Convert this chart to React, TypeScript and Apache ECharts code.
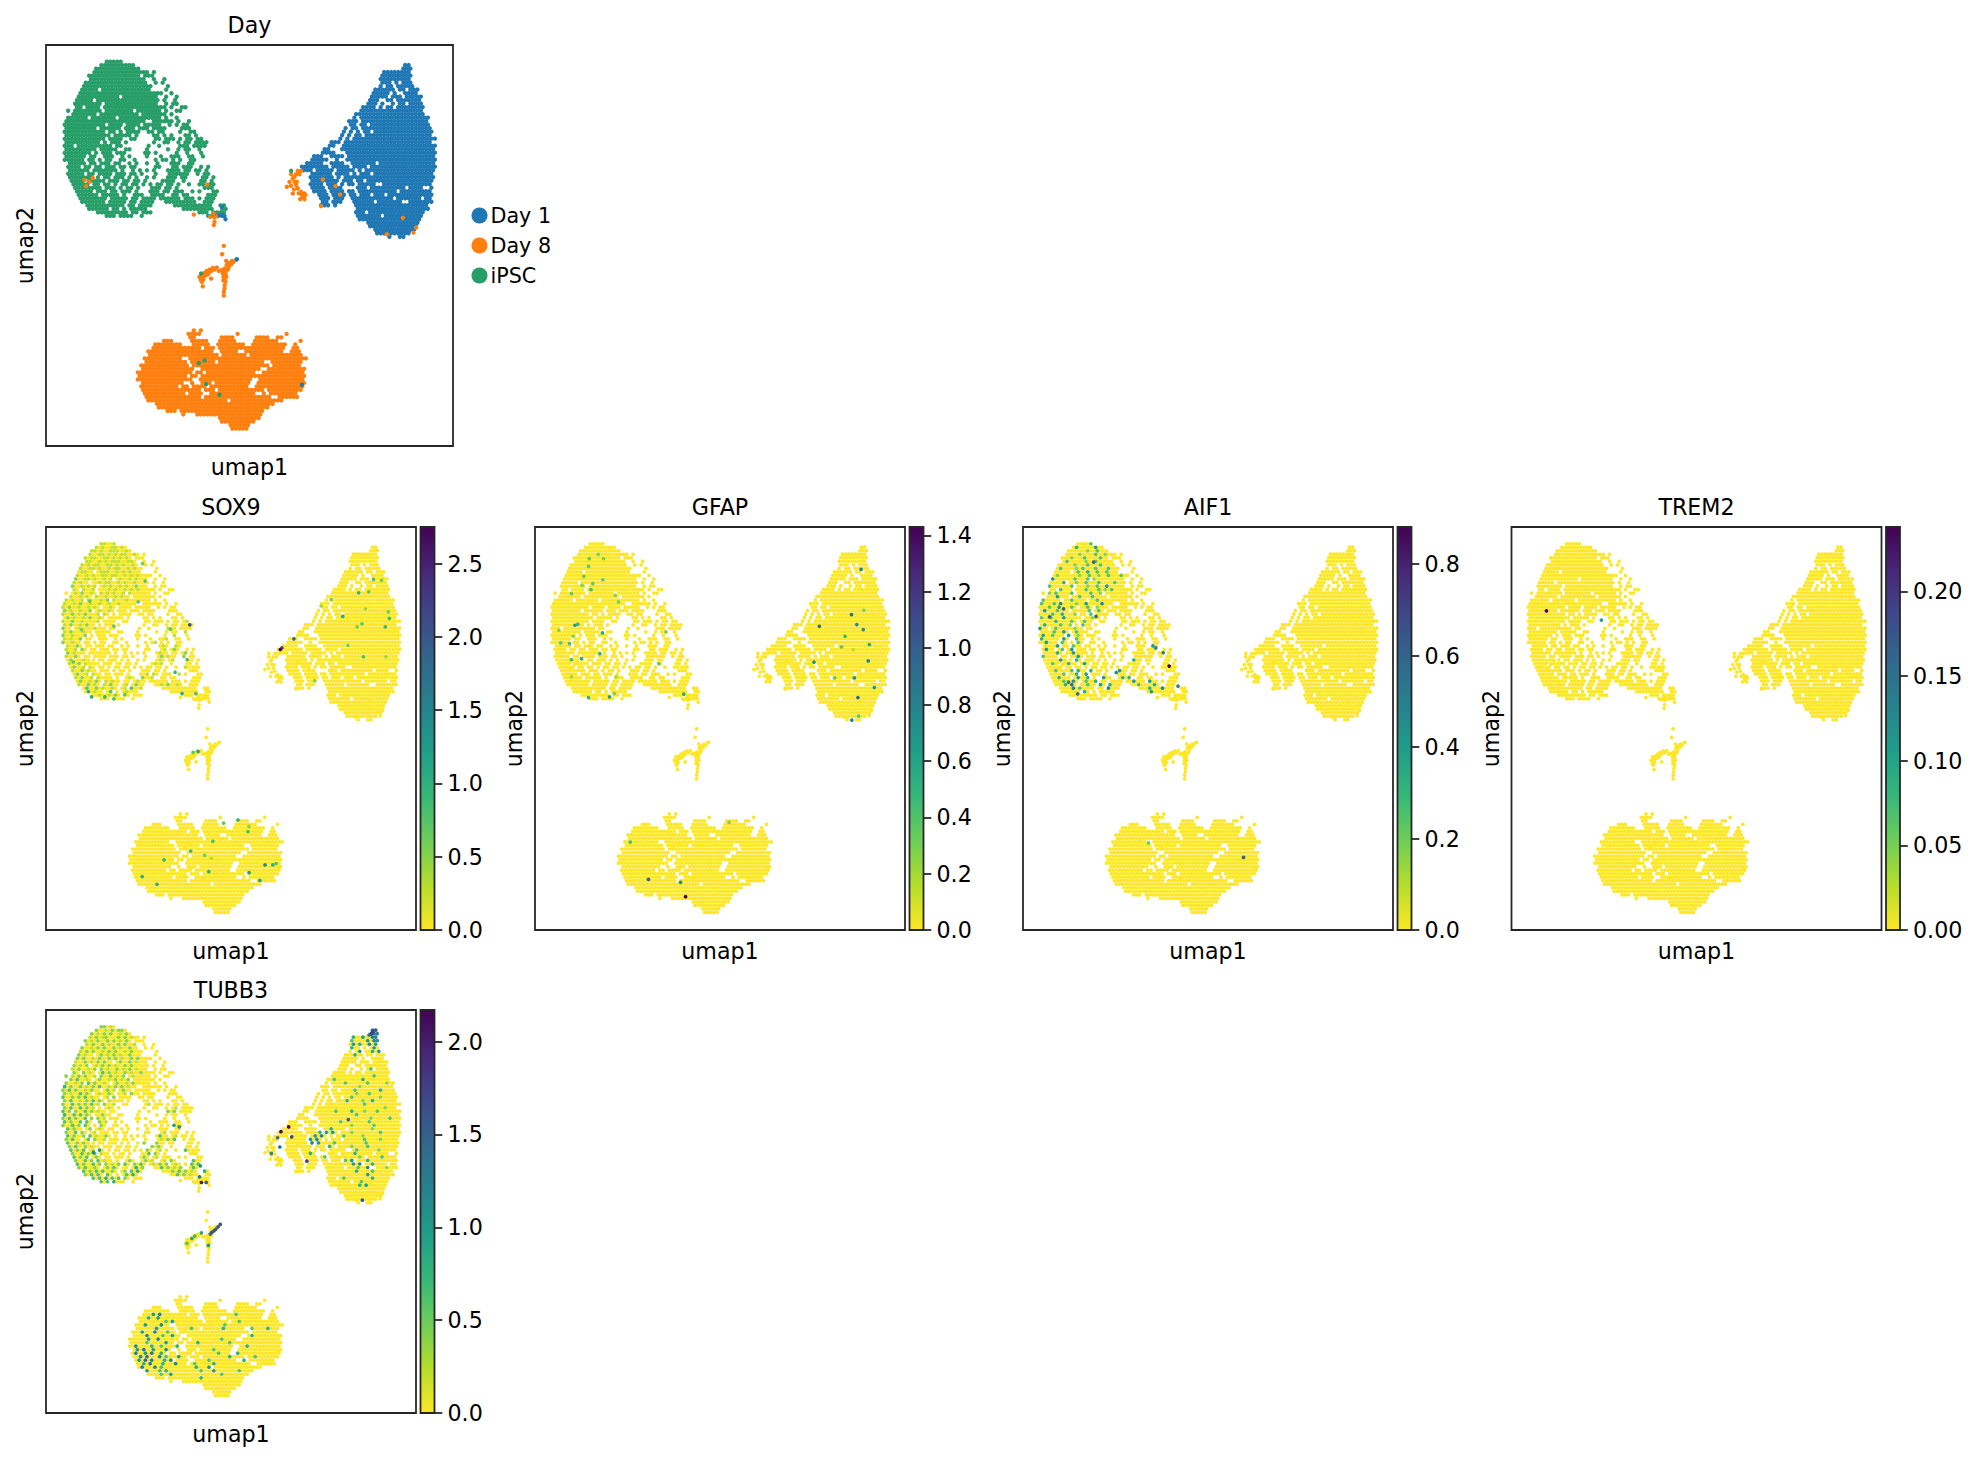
import React, { useEffect, useRef } from "react";
import * as echarts from "echarts";

// ---- Cell maps: one character = one occupied spot on the UMAP ----
const iPSCCells = [
"             #####",
"           ##########",
"          #############",
"         ################ #",
"        ############### ###",
"        ################  #  #",
"       ##################  # #",
"      ####################    #",
"      ##### ##############    #",
"     ########################  #",
"     ############ ##########  #  #",
"    ##### ################## #  #",
"    ######## ###############  # ##",
"    ## #### ################## #  ##",
"  # ######## ######## ####### #  ##",
"   ####### ########### ####### #",
"  ###### ####### ############ #  #",
" #######################  ###### #  #",
" ############ #### #### #####  # # ##",
" ######### ###### ### ### ####    ###",
" ############ ## # ####  ## ##    #  ##",
" ############# ##### #    ## # #   ## #",
" ############ ####  ##     ## ### # ## ##",
" ########## # ### #       #  ##  # ## ####",
" ### ########## ##       #  #     ### ####",
" ######### #####  ##    #     #  # ##  #",
" ######## # ### ###     ## #     #  #   #",
" ###### ##  ###  # #    #   #  ###  ##  #",
" ###### ## # ##  ##  #     # ## # #  ##",
"  ##### ## ### ##  # #  #  #   ###  ##",
"  #### ## ## ### ## ##     ##   ## ###  # #",
"  ###### ####### #  # # # #   #### ## ## #",
"  ##### ## #### ### ## #   #   ######  # ##",
"  ####### # ## ### # #  # #   ### ##    ## #",
"   #### ##### ### ## ## #    ####  #    ## #",
"   ##### ## ## # ## ## # # ## ## #  #  ## ##",
"    ######## ### # ## #   ### ## #       ###",
"    ##### ### ## ### #   ### ## ###  # #   ##",
"     ###### ##### #  ###  ####  ## ##     ###",
"     ######## ##### ## #### ###### ### # ###",
"      ####### ##### ## ####   #########  ###",
"       ########### ## ####      ###########  ##",
"        ###### ## # #####          #########  ##",
"          ######### ## ###             ### ####",
"             ### ####  #                  ### #",
];

const day1Cells = [
"                                  ##",
"                                 ###",
"                            ########",
"                           #########",
"                           #########",
"                           ### # ###",
"                           # ## #####",
"                         ###### ## ###",
"                         ##### #  ####",
"                        ##### ### #####",
"                        ###  ## #######",
"                       ### #  # ## ####",
"                      #### # ## ########",
"                     ##################",
"                    ####################",
"                   # ####################",
"                  ### ###################",
"                  ## ## #################",
"                 # ## ####################",
"                # # # ## #################",
"                # # ## ###################",
"               # # ########################",
"             ### #########################",
"            ##  ###########################",
"           ##   ###########################",
"          ####   ##########################",
"        ###  #### #########################",
"       #####  #  ##########################",
"      #####  ####  ####### ################",
"    ######## ##### #### ###################",
"     ### ##### ##### # ####################",
"       ###### #### # ### #################",
"       ####### # ##########################",
"       ######## ### ## ###################",
"       #### ### # ## #####  ##############",
"       #### ####    ### ########## ####  #",
"        #### #### ## ########### #########",
"         ### #### ## ### ### #############",
"          ### ###  ############ ####### ##",
"          ## ###   ###### #######  #######",
"          ### #     #####################",
"                    #####################",
"                    ### ################",
"                    ####### ###########",
"                     ##################",
"                       ###############",
"                        ##############",
"                         ############",
"                          ##########",
"                             #  ##",
];

const day8Cells = [
"                # #",
"              ####          #             #",
"               ##       ####      ####  ##",
"       ###     #####   #####     #######      #",
"     ########   #####  ########  ##########  #",
"    ############## ### ###################  ##",
"   ###################  #####  ###########  ###",
"   #################### ####### ###############",
"  ###########  ##################################",
"  ############ ####### #############  #########",
" ############## ###################### ########",
" ###############  #################  ###########",
"################ ## ##############  ############",
"############## ## ##############################",
"################  ###############  #############",
" ############  #  ### ##########  ##############",
" ########### ## #### ###########  ##############",
" ################# ### ############# ##########",
"  ############ ####  #############  # ########",
"  ################ ###################  ######",
"   ####################### ###############",
"     ##################################",
"      ################################",
"        ### ########################",
"             #   ###################",
"                       ############",
"                        ##########",
"                          ######",
"                           #####",
];

// ---- Individually read cells on the UMAP (umap1, umap2) ----
const branchCells = [
[38.13,42.99],[37.88,41.91],[38.29,40.91],[38.53,39.83],[40.58,41.74],[38.94,43.16],[39.52,43.66],[40.17,43.99],[40.99,44.41],[41.97,44.49],[42.47,43.66],[39.76,42.82],[38.53,42.16],[39.19,42.57],
[41.4,44],[40.6,43.65],[40,43.15],[38.9,42.6],[38.1,41.3],[37.7,42.15],[39.8,43.4],[38.7,41.5],
[43.69,49.9],[43.28,47.82],[44.27,46.15],[46.73,46.49],[46.07,45.9],[45.5,45.32],[44.92,44.65],[44.43,43.99],[43.86,43.41],[43.45,42.99],[44.1,42.82],[43.86,41.74],[44.1,40.91],[43.86,39.24],[43.69,38.41],[43.69,37.5],[43.04,43.82],[44.68,45.49],
[45.1,45.65],[44.4,45.07],[43.86,44.2],[43.45,43.8],[44.7,44],[44.1,43.4],[43.6,42.15],[44.3,42.15],[43.6,41.3],[43.9,40.1],[45.7,46.15],
];
const day8Clump = [
[59.17,64.63],[60.23,67.79],[60.64,66.71],[59.82,65.87],[61.05,65.87],[61.46,65.04],[61.87,64.21],[60.64,62.96],[62.69,68.62],[61.87,68.62],[61.46,67.79],[62.28,67.79],[62.69,63.38],[63.51,62.96],[63.1,62.13],[62.44,61.55],[63.51,61.55],[63.76,62.55],[61.05,67.12],[61.63,65.87],[60.2,64.9],[60.9,64.0],[62.1,63.0],[62.9,62.6],
];
const day8Strays = [
[68.01,66.46],[71.13,64.79],[72.27,62.71],[67.6,59.8],[87.67,56.88],[83.74,52.81],[90.29,53.22],[90.95,54.47],
[36.32,57.72],[41.15,57.97],[41.4,56.97],[41.4,55.89],[41.23,55.06],[40.33,57.14],[42.22,57.3],[39.6,65.21],[10.69,65.88],[9.46,66.29],[11.5,66.88],[9.87,64.8],
];
const day1Strays = [
[43.28,59.63],[42.63,57.55],[43.28,57.55],[43.85,57.39],[44.1,56.56],[62.86,15.27],[46.89,46.57],
];
const iPSCStrays = [
[38.94,21.35],[37.55,20.68],[39.35,15.44],[42.63,12.78],[38.13,42.99],[60.23,68.62],
];

// ---- Colour bar ranges and ticks ----
const sox9Max = 2.75;
const gfapMax = 1.43;
const aif1Max = 0.881;
const trem2Max = 0.238;
const tubb3Max = 2.17;
const sox9Ticks = [0, 0.5, 1, 1.5, 2, 2.5];
const gfapTicks = [0, 0.2, 0.4, 0.6, 0.8, 1, 1.2, 1.4];
const aif1Ticks = [0, 0.2, 0.4, 0.6, 0.8];
const trem2Ticks = [0, 0.05, 0.1, 0.15, 0.2];
const tubb3Ticks = [0, 0.5, 1, 1.5, 2];

// ---- Expression overlays: digit = elevenths of the bar's maximum, on the cell maps above ----
const sox9IPSC = [
"             11  1",
"           1 1  11 1",
"          11 1  111  1",
"         1  11 1 1 11  1",
"        1 11  11 1 1 1",
"        11  1 1 111  11",
"       1 1 11  11 1 1  1",
"      1  11 1  1 11  1 1",
"       11  1 111  1 1 1",
"     1  1 1  11 11  1 1 1",
"     2  11 1  1 11 1  1 1",
"    1 1  1  1 11  1 1  1",
"    2  1 1 1  1 1  1 1  2",
"    1  1  11   1 1  1 1 1",
"     1 2  1  1 1 1  1 1",
"   1  1 1  1  1  1 1  1",
"  1 1  1 1   1 2 1   1",
" 1  1 2  1  1  1  1",
" 1 2  1  1 1    1",
" 2 1  1  2  1  1",
" 1  2 1 2   1 1",
"  2 1  1 2  1",
" 1  2  1    1                           1",
" 1 2  1 2                  1",
" 2  1 1    1                      1",
" 1 2   1                               1",
" 2  1   2                           1",
" 1 1  2                          1",
" 2  1  1                      1  1",
"  1  2                       1  1   1",
"  1  1 2                       1 1  2 1",
"  2 1   1                    1 1  1  1 2",
"  1  2 1                     1  2 1    2",
"   2   1                     2 1   1",
"   1  2 1                     1 1    1",
"    2  1 1      1                      1",
"    1  2 1  1                   1 2     2",
"     2  1 1                1 1       1  2",
"     1 2  1 1         1   2  1",
"      2  1 2  1 1  2  1 1  1",
"      1  2 1  1 2  2 1  2    1  1 2  1",
"        3  2 1  1 2 1 3  1",
"         4 1  2 3  2 1",
"            1  1 2",
];

const aif1IPSC = [
"                 3",
"            4     5",
"                2  3",
"             2    3  2",
"           2   3    3",
"         3     2  3",
"            2   3   3     3",
"       3    2 3   3   3",
"             3  4  3  3",
"      2      2  3  2  3   3",
"     5      3   3 2",
"        4   2  3   3    3",
"    3      3    2  3  5",
"       3   3   3   3 2 3",
"    2 3    3     3  2",
"      5   2  3   3    3",
"  3     5  3    2  3",
" 3   3 6    2  5    6",
"    3  5   3    3  2",
"  5   3   2     3  3",
"     3  4   2    3",
" 3  3   5     4  2",
"      4    3   3",
"  4    3  2   3",
" 5    3     2",
"     3  5   3",
"  5  3    5  2",
" 4      5   3",
"   5    3    3                   4",
"      5    3                        5",
"   5    3  5",
"      4    5",
"  3    3  6  5              5",
"       5    4                 4     6",
"     3    4    5          3",
"        3  6",
"      3    3 4   4        5  5    5",
"        3   4  5",
"       4     5  4    5     4 4",
"        3  5   3  4           5    5",
"         4 7    3   5  4        3    4 5",
"           6 3    3   6            4   6",
"               4 4                  5",
];

const tubb3IPSC = [
"             22 1",
"           2  1 2 22",
"          2 1 2 2  1 2",
"         1 2 12   2 2 1  2  2",
"        2 1 2  2 2 1 2",
"        1 2  2 1  2 2  1",
"       2  1 2 2  2 1  2  2",
"      1 2 2  1 2 2  1 2",
"      2 1  2 2 1 2 1  2",
"     2 2  1 2  2 2 1  2 2",
"     1  2 1 2 2  1 2  2 1",
"    2 1 2  1 2 2 1  2 2",
"    1 2  1 2 2 1  2 1 2 1",
"    2  2 1 2 3 2 1  2 1  2",
"  2 1 2 2  1 2  2 1 2  1",
"   2 3  1 2 2  1 2 1 2",
"  2  1 2 3 2  1 2 2  1 2",
" 4 2  2 1 2 3  1 2 2 1",
" 2 3 2  1 2  3 2 1  2",
" 2 1  3 2 2 1  2 3  1 2",
" 3  2 2 3 1  2 1 2",
" 2 3  1 2 3 2  1",
" 2  3 2 2 3 1 2  1          1",
" 2 3  3 2 1  3 1                  2 1",
" 3 2 2  3 2 1  2                  2 2",
" 4  3 3 2 3  2",
" 2 3 2  3 2 2 1",
" 3 2  3 3   2 1",
" 2  3 2 3 1  2",
"  3 2  3 2  1 2              2",
"  2  3 2 3 1                 3 2 1",
"  3 2  2 3 1  2              2 3  1 1",
"  2 3  2 3 2  1           2 1 3 1 2 3",
"  3  2 2 3                2 3 2     3 2",
"   2 3  2 1                3 2 2 1   3 3",
"   3 2 3  1 5              2 3 1     4 3",
"    2  3 2 3 1              3 2 1     4 3",
"    3 2 3  2 1        1   2 3 1       3 4",
"     2  3 2 3 1       2 3  2 1   1 2    3 3",
"     3 2  3 2 2 1 2 3  2 3 2 1 2 2  1 2  3 3",
"      2 3  2 3 2 3 2  3 4 2     3 2 1 2 2 3",
"       3 2 3 3  2 3 2 3 4 3        2 3 2 1 2 4",
"        2 3 3  3 2 3 3 4 3           3 2 1  3",
"          3 3 4 3 3 2",
"             3 3 4",
];

const tubb3Day1 = [
"                                  78",
"                                 676",
"                            4  5  66",
"                           3    5 65",
"                            5 4  6 5",
"                           4    4 5",
"                              5   4 5",
"                            4     4",
"                                 4",
"",
"                               4",
"                                 3",
"",
"                                  3",
"                      3        4",
"                         3      3     2",
"                              2",
"                            3       4",
"                             2   3",
"                           3        2",
"                          4    2  4",
"                               3",
"                                      2",
"                      3    4   2   3",
"                             3",
"                                 2     3",
"                        3        3",
"                           2      3",
"                     4            2",
"                 4 5 5     2        3",
"              6 5 6      3     2",
"              5 6   4          3    2",
"               6 5    3         3",
"                    4      2    3",
"                             3      2",
"              4    3        4     3",
"                   3          2      3",
"                 4       3 5    4",
"                            5 6   4",
"                         4   3  6     2",
"                             4    3",
"                                5",
"                         3        4",
"                              3",
"                              4 5",
];

const tubb3Day8 = [
"",
"",
"",
"",
"",
"       5 6                       3",
"      4  5                    4",
"           3 5                    3",
"     5    6                   3",
"        5          3         4        3    4",
"    5   6   3",
"     6    3  5                        4",
"      5  6                   3",
"     3     5         4         3",
"  6    4  3    4                     4",
"  5 7  5   6              3",
"  6  5 7  4                 3     4",
"   6 7   6 3   5               4       3",
"   5 7 6   4 6           3          4",
"    4 7   4   6     3     4",
"    6   6 3          4   5",
"     5   3 4          3   5       3",
"          3  5               3",
"                      4",
"",
];

// ---- Single cells with a higher reading: [umap1, umap2, expression] ----
const sox9Spots = [
[38.85,75.72,2],[63.31,69.6,2.75],[63.76,70,2.1],[67,72.25,1.8],[26.8,86.58,0.7],[24.9,81.44,0.7],[11.87,81.6,0.7],[18.35,75.4,0.7],[26.08,90.9,0.6],[33.63,74.65,0.7],[38.13,67.1,0.8],[34.9,63.96,1],[36.78,58.66,1.1],[40.47,58.66,0.8],[12.32,57.83,1.1],[15.92,57.83,0.9],[18.35,57.33,0.8],[21.3,58.4,0.7],[7.37,66.5,0.7],[9.62,74.56,0.6],[41.1,44.3,1.1],[39.75,44.1,0.7],
[88.5,87,0.8],[90.7,86.74,0.6],[84.5,83.68,1],[87.2,83.93,0.7],[80.2,77.8,1.1],[86.33,79.7,0.4],[92.5,78.96,0.6],[92.8,77.3,0.9],[91.7,75.2,0.9],[84.1,75.2,0.6],[85.4,75.97,0.7],[81.56,70.6,0.6],[85.8,67.8,0.8],[77.07,82,0.6],[74.37,80.4,0.4],[72.6,61.9,0.5],[91.9,67.8,0.4],
[51.9,27.3,1],[48,26.5,0.7],[54.86,25.7,0.5],[54.6,24.4,0.8],[45.1,22,0.8],[39.1,19.6,0.9],[42.9,18.5,0.6],[31.9,17.4,0.9],[44.7,17.8,0.3],[44,14.5,1],[26,13.25,1],[30,11.35,1],[54.9,14.25,1.2],[59.2,16.15,1.4],[61.3,16.15,1],[62.2,16.5,0.8],[57.8,12.3,1.1],
];
const gfapSpots = [
[17.07,93.22,0.3],[14.66,92.15,0.35],[14.46,90.25,0.35],[13.21,87.77,0.35],[18.51,92.15,0.28],[18.32,86.94,0.35],[15.62,85.95,0.35],[15.14,84.46,0.42],[12.73,85.54,0.28],[9.84,83.47,0.35],[21.7,83.06,0.28],[22.57,81.4,0.28],[10.8,75.62,0.64],[11.57,75.87,0.5],[6.46,74.38,0.28],[18.23,73.72,0.57],[10.32,72.89,0.28],[6.94,71.24,0.35],[9.35,71.07,0.42],[17.55,68.6,0.5],[9.84,67.11,0.42],[12.54,67.36,0.57],[9.84,62.81,0.2],[21.89,62.81,0.2],[14.46,57.69,0.5],[20.15,57.85,0.64],[21.41,58.68,0.28],[40.21,58.51,0.57],[33.46,66.12,0.35],[35.39,73.97,0.28],
[88.14,89.5,0.78],[85.53,78.26,0.93],[86.98,75.79,0.71],[88.72,74.55,0.71],[76.86,75.37,1],[83.8,72.89,0.5],[88.91,79.34,0.28],[90.36,70.83,0.57],[82.84,70.25,0.35],[86.02,69.59,0.14],[90.07,66.78,0.78],[75.41,66.45,0.71],[81,62.56,0.35],[86.31,62.56,0.71],[91.71,60.17,0.71],[87.27,57.69,1],[87.46,53.06,0.35],[85.63,52.07,0.78],
[52.46,26.69,0.28],[25.75,21.82,0.42],[30.67,12.56,1],[39.34,11.82,0.78],[40.69,8.26,1.43],
];
const aif1Spots = [
[39.5,65.5,0.88],[19.1,91.3,0.6],[10.96,79.7,0.6],[19.75,77.8,0.6],[7.16,77.7,0.6],[41.9,60.5,0.5],[14.76,58.6,0.55],[12.3,61.5,0.5],[35.9,70,0.45],[37.9,68.8,0.5],[25.2,63.9,0.45],[59.6,18,0.62],[33.9,21.6,0.2],
];
const trem2Spots = [
[9.44,79.2,0.238],[24.3,76.9,0.1],
];
const tubb3Spots = [
[63.5,69.8,2.1],[65.6,71,2.1],[62.6,68.3,1.4],[63.2,66,1.4],[66.4,68.5,1.7],[60.9,64.4,1.2],[70.5,62.5,1.7],[88.3,94.6,1.8],[87.9,94,1.6],[87.3,93.8,1.3],[85.5,52.8,1.6],[81.7,72.8,1.5],[42,57.2,2],[43.3,57.2,1.6],[41.5,58.6,1.3],
[47.1,46.8,1.6],[46.5,46.2,1.6],[45.9,45.6,1.6],[45.4,45.2,1.6],[44.8,44.8,1.6],[44.4,44.4,1.3],[39.4,43.3,0.9],[40.2,43.9,0.7],[38.1,42.1,0.6],[43.9,41.6,1],[42,44.7,0.9],[12.8,64.65,1.2],[34.6,71.4,1],[36,71,1.1],[41.7,61.3,1],
];

const iPSCOrigin = [3.73, 95.84];
const day1Origin = [59.0, 95.0];
const day8Origin = [22.56, 28.84];
const stepX = 0.86;
const stepY = 0.874;

const VIRIDIS_R = ["#fde725","#b5de2b","#6ece58","#35b779","#1f9e89","#26828e","#31688e","#3e4989","#482878","#440154"];
const FONT = "DejaVu Sans";
const INK = "#262626";
const BORDER = 1.78;

function decode(map: string[], origin: number[], overlay?: string[], max = 1) {
  const out: number[][] = [];
  map.forEach((row, r) => {
    for (let c = 0; c < row.length; c++) {
      if (row[c] !== "#") continue;
      const mark = overlay && overlay[r] ? overlay[r][c] : undefined;
      const level = mark && mark !== " " ? Number(mark) : 0;
      out.push([origin[0] + (c + (r % 2) / 2) * stepX, origin[1] - r * stepY, (level / 11) * max]);
    }
  });
  return out;
}

function geneData(max: number, spots: number[][], ov: { ipsc?: string[]; day1?: string[]; day8?: string[] }) {
  const pts = [
    ...decode(iPSCCells, iPSCOrigin, ov.ipsc, max),
    ...decode(day1Cells, day1Origin, ov.day1, max),
    ...decode(day8Cells, day8Origin, ov.day8, max),
    ...[...branchCells, ...day8Clump, ...day8Strays, ...day1Strays, ...iPSCStrays].map((p) => [p[0], p[1], 0]),
    ...spots,
  ];
  return pts.sort((a, b) => a[2] - b[2]);
}

const genes = [
  { name: "SOX9", max: sox9Max, ticks: sox9Ticks, digits: 1, left: 46, top: 527, spots: sox9Spots, ov: { ipsc: sox9IPSC } },
  { name: "GFAP", max: gfapMax, ticks: gfapTicks, digits: 1, left: 535, top: 527, spots: gfapSpots, ov: {} },
  { name: "AIF1", max: aif1Max, ticks: aif1Ticks, digits: 1, left: 1023, top: 527, spots: aif1Spots, ov: { ipsc: aif1IPSC } },
  { name: "TREM2", max: trem2Max, ticks: trem2Ticks, digits: 2, left: 1511.5, top: 527, spots: trem2Spots, ov: {} },
  { name: "TUBB3", max: tubb3Max, ticks: tubb3Ticks, digits: 1, left: 46, top: 1010, spots: tubb3Spots, ov: { ipsc: tubb3IPSC, day1: tubb3Day1, day8: tubb3Day8 } },
];
const PW = 370;
const PH = 403;
const CB_GAP = 4.5;
const CB_W = 14;

function buildOption() {
  const font = { fontFamily: FONT, fontSize: 22.2, color: "#000" };
  const grid: any[] = [];
  const xAxis: any[] = [];
  const yAxis: any[] = [];
  const series: any[] = [];
  const title: any[] = [];
  const visualMap: any[] = [];

  const addPanel = (l: number, t: number, w: number, h: number, name: string) => {
    const i = grid.length;
    grid.push({ left: l, top: t, width: w, height: h, show: true, borderColor: INK, borderWidth: BORDER, backgroundColor: "#fff" });
    xAxis.push({ gridIndex: i, type: "value", min: 0, max: 100, name: "umap1", nameLocation: "middle", nameGap: 10, nameTextStyle: font, axisLine: { show: false }, axisTick: { show: false }, axisLabel: { show: false }, splitLine: { show: false } });
    yAxis.push({ gridIndex: i, type: "value", min: 0, max: 100, name: "umap2", nameLocation: "middle", nameGap: 10, nameTextStyle: font, axisLine: { show: false }, axisTick: { show: false }, axisLabel: { show: false }, splitLine: { show: false } });
    title.push({ text: name, left: l + w / 2, top: t - 31, padding: 0, textAlign: "center", textStyle: { ...font, fontWeight: "normal" } });
    return i;
  };

  const scatter = (name: string, grid: number, data: number[][], color: string | undefined, size: number) => ({
    type: "scatter", name, xAxisIndex: grid, yAxisIndex: grid, data, symbol: "circle", symbolSize: size,
    itemStyle: color ? { color, opacity: 1 } : { opacity: 1 }, silent: true, progressive: 0, animation: false, clip: false,
  });

  // Day panel
  const g0 = addPanel(46, 45, 407, 401, "Day");
  const dotDay = 4.4;
  series.push(scatter("Day 1", g0, decode(day1Cells, day1Origin), "#1f77b4", dotDay));
  series.push(scatter("iPSC", g0, decode(iPSCCells, iPSCOrigin), "#279e68", dotDay));
  series.push(scatter("Day 8", g0, [...decode(day8Cells, day8Origin), ...branchCells, ...day8Clump, ...day8Strays], "#ff7f0e", dotDay));
  series.push(scatter("Day 1", g0, day1Strays, "#1f77b4", dotDay));
  series.push(scatter("iPSC", g0, iPSCStrays, "#279e68", dotDay));

  // Expression panels
  genes.forEach((g) => {
    const i = addPanel(g.left, g.top, PW, PH, g.name);
    const idx = series.length;
    series.push(scatter(g.name, i, geneData(g.max, g.spots, g.ov), undefined, 3.7));
    visualMap.push({ show: false, seriesIndex: idx, dimension: 2, min: 0, max: g.max, inRange: { color: VIRIDIS_R } });
  });

  // Colour bars
  const stops = VIRIDIS_R.map((color, k) => ({ offset: k / (VIRIDIS_R.length - 1), color }));
  genes.forEach((g) => {
    const i = grid.length;
    grid.push({ left: g.left + PW + CB_GAP, top: g.top, width: CB_W, height: PH, show: true, borderColor: INK, borderWidth: BORDER, backgroundColor: "transparent", z: 10 });
    xAxis.push({ gridIndex: i, type: "category", data: [g.name], show: false });
    yAxis.push({
      gridIndex: i, type: "value", position: "right", min: 0, max: g.max,
      axisLine: { show: false }, splitLine: { show: false },
      axisTick: { show: true, length: 7.8, lineStyle: { color: INK, width: BORDER }, customValues: g.ticks },
      axisLabel: { show: true, margin: 13, ...font, formatter: (v: number) => Number(v).toFixed(g.digits), customValues: g.ticks },
    });
    series.push({
      type: "bar", xAxisIndex: i, yAxisIndex: i, data: [g.max], barWidth: "100%", silent: true,
      itemStyle: { color: new echarts.graphic.LinearGradient(0, 1, 0, 0, stops) },
    });
  });

  return {
    animation: false,
    backgroundColor: "#fff",
    title, grid, xAxis, yAxis, series, visualMap,
    legend: {
      show: true, orient: "vertical", left: 466.5, top: 200, itemWidth: 16, itemHeight: 16, itemGap: 9,
      icon: "circle", selectedMode: false, data: ["Day 1", "Day 8", "iPSC"],
      textStyle: { fontFamily: FONT, fontSize: 20.7, color: "#000", padding: [0, 0, 0, -2] },
    },
  };
}

export default function App() {
  const ref = useRef<HTMLDivElement>(null);
  useEffect(() => {
    const chart = echarts.init(ref.current!, null, { renderer: "svg", width: 1979, height: 1459 });
    chart.setOption(buildOption() as any);
    return () => chart.dispose();
  }, []);
  return <div ref={ref} style={{ position: "absolute", left: 0, top: 0, width: 1979, height: 1459 }} />;
}
